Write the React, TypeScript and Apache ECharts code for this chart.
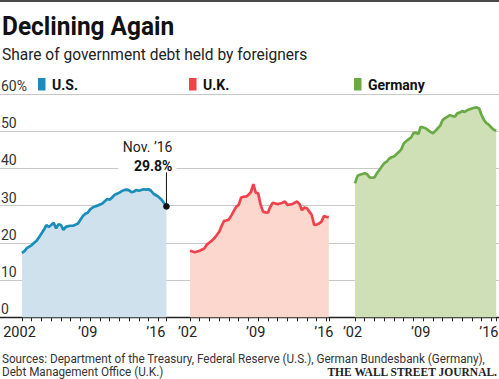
import React, { useEffect, useRef } from "react";
import * as echarts from "echarts";

// ---------- data ----------
const startYear = 2002;
const yTicks = [0, 10, 20, 30, 40, 50, 60];
const countries = ["U.S.", "U.K.", "Germany"];

// quarterly readings, starting Q1 2002
const usQuarterly = [
  17.3, 17.8, 18.6, 19.0,
  19.4, 20.0, 20.6, 21.5,
  22.5, 23.5, 24.8, 24.3,
  24.8, 25.4, 23.9, 25.0,
  24.8, 23.5, 24.3, 24.5,
  24.6, 24.6, 24.9, 25.2,
  26.2, 27.2, 27.8, 28.1,
  29.0, 29.5, 29.8, 30.0,
  30.3, 30.6, 31.2, 31.8,
  31.6, 32.2, 32.9, 33.2,
  33.5, 33.9, 34.2, 34.3,
  34.1, 33.6, 33.8, 34.2,
  34.0, 34.2, 34.4, 34.3,
  34.4, 34.0, 33.2, 32.8,
  32.4, 31.8, 31.0,
];
const usLatestDate = 2016.83; // Nov. 2016
const usLatestValue = 29.8;
const usLatestLabel = "Nov. ’16";

const ukQuarterly = [
  17.9, 17.7, 17.5, 17.7,
  17.9, 18.2, 18.6, 19.6,
  20.1, 20.6, 21.3, 22.1,
  23.0, 24.6, 25.9, 26.0,
  26.3, 27.4, 28.6, 29.7,
  30.2, 32.2, 32.4, 32.4,
  32.9, 33.6, 35.8, 33.5,
  33.3, 30.2, 28.4, 28.2,
  28.1, 29.7, 30.8, 30.6,
  30.4, 30.6, 30.8, 31.1,
  30.2, 30.3, 30.4, 30.8,
  31.1, 30.4, 28.8, 29.5,
  29.3, 28.4, 27.5, 24.8,
  24.9, 25.2, 25.7, 27.2,
  27.0, 26.9,
];

const deQuarterly = [
  36.0, 38.0, 38.3, 38.5,
  38.7, 38.4, 37.6, 37.5,
  37.6, 38.7, 39.6, 40.5,
  41.4, 41.8, 42.6, 43.0,
  43.2, 43.8, 44.4, 45.1,
  46.7, 47.3, 47.8, 48.3,
  49.5, 49.6, 49.2, 51.2,
  51.0, 50.8, 50.3, 49.8,
  49.4, 50.1, 50.8, 51.5,
  53.0, 53.5, 53.9, 54.3,
  54.1, 53.9, 54.8, 55.0,
  55.4, 55.2, 55.6, 55.9,
  56.1, 56.3, 56.4, 56.1,
  54.3, 53.0, 52.2, 51.7,
  51.0, 50.4, 50.1,
];

const usTickLabels: Record<number, string> = { 2002: "2002", 2009: "’09", 2016: "’16" };
const shortTickLabels: Record<number, string> = { 2002: "’02", 2009: "’09", 2016: "’16" };

const toPairs = (vals: number[]) => vals.map((v, i) => [startYear + i / 4, v]);

// ---------- styles / layout ----------
const FONT = "Roboto, 'Noto Sans', sans-serif";
const PX_PER_YEAR = 9.74;
const GRID_TOP = 94;
const GRID_H = 223.3;

export default function App() {
  const ref = useRef<HTMLDivElement>(null);

  useEffect(() => {
    if (!ref.current) return;
    const chart = echarts.init(ref.current, null, { renderer: "svg" });

    const usData = [...toPairs(usQuarterly), [usLatestDate, usLatestValue]];
    const ukData = toPairs(ukQuarterly);
    const deData = toPairs(deQuarterly);

    const panels = [
      { name: countries[0], data: usData, left: 22, line: "#1a8dbb", area: "#cfe1ec", labels: usTickLabels },
      { name: countries[1], data: ukData, left: 190, line: "#f1414a", area: "#fcd7cd", labels: shortTickLabels },
      { name: countries[2], data: deData, left: 355, line: "#6aaa45", area: "#cfe0b7", labels: shortTickLabels },
    ].map((p) => ({ ...p, max: p.data[p.data.length - 1][0] as number }));

    const grids: any[] = [{ left: 0, right: 0, top: GRID_TOP, height: GRID_H, outerBoundsMode: "none" }];
    const xAxes: any[] = [
      {
        type: "value", gridIndex: 0, min: 0, max: 1,
        axisLine: { show: true, lineStyle: { color: "#222", width: 1.3 } },
        axisTick: { show: false }, axisLabel: { show: false }, splitLine: { show: false },
      },
    ];
    const yAxes: any[] = [
      {
        type: "value", gridIndex: 0, min: 0, max: 60, interval: 10,
        axisLine: { show: false }, axisTick: { show: false },
        splitLine: { show: true, lineStyle: { color: "#c8c8c8", width: 1 } },
        axisLabel: {
          inside: true, margin: 1, verticalAlign: "bottom", padding: [0, 0, 1, 0],
          fontSize: 14, color: "#333", fontFamily: FONT,
          formatter: (v: number) => (v === yTicks[yTicks.length - 1] ? v + "%" : String(v)),
        },
      },
    ];
    const series: any[] = [];

    panels.forEach((p, i) => {
      grids.push({
        left: p.left, top: GRID_TOP, height: GRID_H,
        width: (p.max - startYear) * PX_PER_YEAR, outerBoundsMode: "none",
      });
      xAxes.push({
        type: "value", gridIndex: i + 1, min: startYear, max: p.max, interval: 1,
        axisLine: { show: false },
        axisTick: { show: true, length: 4, lineStyle: { color: "#222", width: 1 } },
        splitLine: { show: false },
        axisLabel: {
          margin: 8, fontSize: 14.5, color: "#222", fontFamily: FONT,
          padding: [0, 5, 0, 0],
          showMinLabel: true, showMaxLabel: true,
          formatter: (v: number) => p.labels[v] ?? "",
        },
      });
      yAxes.push({ type: "value", gridIndex: i + 1, min: 0, max: 60, show: false });
      series.push({
        type: "line", name: p.name, xAxisIndex: i + 1, yAxisIndex: i + 1,
        data: p.data, showSymbol: false, symbol: "none",
        lineStyle: { color: p.line, width: 2.7 },
        areaStyle: { color: p.area, opacity: 1 },
        z: 3,
      });
    });

    chart.setOption({
      animation: false,
      grid: grids,
      xAxis: xAxes,
      yAxis: yAxes,
      series,
    });

    const [dx, dy] = chart.convertToPixel({ xAxisIndex: 1, yAxisIndex: 1 }, [usLatestDate, usLatestValue]) as number[];

    const legendItems = panels.map((p, i) => ({
      type: "group",
      children: [
        { type: "rect", shape: { x: [38, 189, 354][i], y: 78, width: 7.5, height: 12.5 }, style: { fill: p.line } },
        {
          type: "text", x: [52, 203, 368][i], y: 85,
          style: { text: p.name, font: `bold 14px ${FONT}`, fill: "#111", textVerticalAlign: "middle" },
        },
      ],
    }));

    chart.setOption({
      graphic: [
        { type: "rect", shape: { x: 0, y: 0, width: 499, height: 2 }, style: { fill: "#4a4a4a" } },
        {
          type: "text", x: 2, y: 26, scaleX: 0.94,
          style: { text: "Declining Again", font: `bold 26px ${FONT}`, fill: "#111", textVerticalAlign: "middle" },
        },
        {
          type: "text", x: 2, y: 54, scaleX: 0.97,
          style: { text: "Share of government debt held by foreigners", font: `16px ${FONT}`, fill: "#222", textVerticalAlign: "middle" },
        },
        ...legendItems,
        // annotation
        { type: "rect", shape: { x: dx - 48, y: dy - 68, width: 58, height: 33 }, style: { fill: "#fff" }, z: 5 },
        {
          type: "text", x: dx + 6, y: dy - 59, z: 6,
          style: { text: usLatestLabel, font: `14px ${FONT}`, fill: "#222", textAlign: "right", textVerticalAlign: "middle" },
        },
        {
          type: "text", x: dx + 6, y: dy - 40, z: 6,
          style: { text: usLatestValue.toFixed(1) + "%", font: `bold 14px ${FONT}`, fill: "#111", textAlign: "right", textVerticalAlign: "middle" },
        },
        { type: "line", shape: { x1: dx, y1: dy - 34, x2: dx, y2: dy }, style: { stroke: "#111", lineWidth: 1 }, z: 6 },
        { type: "circle", shape: { cx: dx, cy: dy, r: 3.3 }, style: { fill: "#111" }, z: 6 },
        // footer
        {
          type: "text", x: 2, y: 359, scaleX: 0.9,
          style: {
            text: "Sources: Department of the Treasury, Federal Reserve (U.S.), German Bundesbank (Germany),",
            font: `13px ${FONT}`, fill: "#333", textVerticalAlign: "middle",
          },
        },
        {
          type: "text", x: 2, y: 372, scaleX: 0.9,
          style: { text: "Debt Management Office (U.K.)", font: `13px ${FONT}`, fill: "#333", textVerticalAlign: "middle" },
        },
        {
          type: "text", x: 497, y: 372,
          style: {
            text: "THE WALL STREET JOURNAL.", font: `bold 11.5px 'Liberation Serif', 'DejaVu Serif', serif`,
            fill: "#222", textAlign: "right", textVerticalAlign: "middle",
          },
        },
      ],
    });

    return () => chart.dispose();
  }, []);

  return (
    <div
      ref={ref}
      style={{ position: "absolute", left: 0, top: 0, width: 499, height: 379, background: "#fff" }}
    />
  );
}
